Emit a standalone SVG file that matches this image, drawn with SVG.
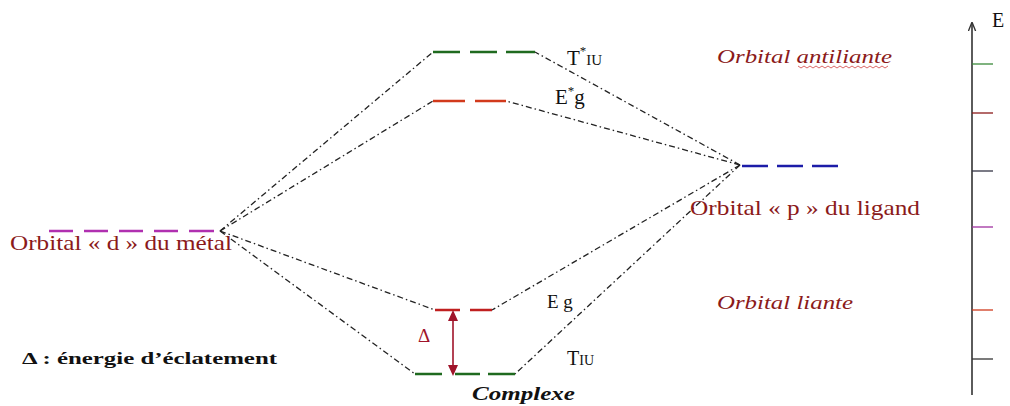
<svg xmlns="http://www.w3.org/2000/svg" width="1010" height="406" viewBox="0 0 1010 406">
<defs>
<style>
.lvl{stroke-width:2.6;fill:none}
.conn{stroke:#222;stroke-width:1.3;fill:none;stroke-dasharray:6 3 1.5 3}
.serif{font-family:"Liberation Serif","DejaVu Serif",serif}
.red{fill:#8b1a1a}
.blk{fill:#111}
.tick{stroke-width:1.3}
</style>
<marker id="axh" viewBox="0 0 10 10" refX="9" refY="5" markerWidth="9" markerHeight="9" markerUnits="userSpaceOnUse" orient="auto">
<path d="M0,1 L10,5 L0,9" fill="none" stroke="#333" stroke-width="1.5"/>
</marker>
</defs>
<rect width="1010" height="406" fill="#fff"/>

<g id="connectors">
<line class="conn" x1="220" y1="231" x2="433" y2="52"/>
<line class="conn" x1="220" y1="231" x2="433" y2="101"/>
<line class="conn" x1="220" y1="231" x2="435" y2="310"/>
<line class="conn" x1="220" y1="231" x2="415" y2="374"/>
<line class="conn" x1="740" y1="165" x2="535" y2="52"/>
<line class="conn" x1="740" y1="165" x2="506" y2="101"/>
<line class="conn" x1="740" y1="165" x2="492" y2="310"/>
<line class="conn" x1="740" y1="165" x2="515" y2="374"/>
</g>

<g id="T1U-star">
<path class="lvl" stroke="#1f6a1f" d="M433,52 H460 M470,52 H497 M506,52 H535"/>
<text class="serif blk" x="567" y="65" font-size="21">T<tspan font-size="13" dy="-10">*</tspan><tspan font-size="15" dy="10">IU</tspan></text>
</g>

<g id="Eg-star">
<path class="lvl" stroke="#d23a1c" d="M433,101 H465 M475,101 H506"/>
<text class="serif blk" x="555" y="104" font-size="21">E<tspan font-size="13" dy="-9">*</tspan><tspan dy="9">g</tspan></text>
</g>

<g id="metal">
<path class="lvl" stroke="#b030b0" d="M49,231 H73 M84,231 H108 M119,231 H143 M154,231 H178 M189,231 H214"/>
<text class="serif red" x="10" y="250" font-size="21" textLength="222" lengthAdjust="spacingAndGlyphs">Orbital « d » du métal</text>
</g>

<g id="ligand">
<path class="lvl" stroke="#1c1ca8" d="M742,166 H768 M777,166 H803 M812,166 H838"/>
<text class="serif red" x="690" y="215" font-size="21" textLength="230" lengthAdjust="spacingAndGlyphs">Orbital « p » du ligand</text>
</g>

<g id="Eg">
<path class="lvl" stroke="#c02020" d="M435,310 H460 M470,310 H492"/>
<text class="serif blk" x="547" y="308" font-size="19">E g</text>
</g>

<g id="T1U">
<path class="lvl" stroke="#1f6a1f" d="M415,374 H442 M455,374 H480 M488,374 H515"/>
<text class="serif blk" x="567" y="365" font-size="20">T<tspan font-size="14">IU</tspan></text>
</g>

<g id="delta">
<line x1="453" y1="316" x2="453" y2="368" stroke="#a0142a" stroke-width="1.6"/>
<path d="M453,310 L448,321 L458,321 z M453,376 L448,365 L458,365 z" fill="#a0142a"/>
<text class="serif" fill="#a0142a" x="418" y="342" font-size="19">Δ</text>
</g>

<g id="labels">
<text class="serif red" x="717" y="63" font-size="18" font-style="italic" textLength="175" lengthAdjust="spacingAndGlyphs">Orbital antiliante</text>
<path d="M798,66 l3,2 l3,-2 l3,2 l3,-2 l3,2 l3,-2 l3,2 l3,-2 l3,2 l3,-2 l3,2 l3,-2 l3,2 l3,-2 l3,2 l3,-2 l3,2 l3,-2 l3,2 l3,-2 l3,2 l3,-2 l3,2 l3,-2 l3,2 l3,-2 l3,2 l3,-2 l3,2 l3,-2" fill="none" stroke="#d04040" stroke-width="0.8"/>
<text class="serif red" x="717" y="309" font-size="18" font-style="italic" textLength="136" lengthAdjust="spacingAndGlyphs">Orbital liante</text>
<text class="serif blk" x="22" y="364" font-size="17" font-weight="bold" textLength="255" lengthAdjust="spacingAndGlyphs">Δ : énergie d’éclatement</text>
<text class="serif blk" x="472" y="400" font-size="18" font-weight="bold" font-style="italic" textLength="103" lengthAdjust="spacingAndGlyphs">Complexe</text>
</g>

<g id="axis">
<line x1="972" y1="395" x2="972" y2="23" stroke="#333" stroke-width="1.6" marker-end="url(#axh)"/>
<text class="serif blk" x="992" y="27" font-size="20">E</text>
<line class="tick" x1="972" y1="64" x2="993" y2="64" stroke="#3a8a3a"/>
<line class="tick" x1="972" y1="113" x2="993" y2="113" stroke="#8b1a1a"/>
<line class="tick" x1="972" y1="171" x2="993" y2="171" stroke="#333344"/>
<line class="tick" x1="972" y1="227" x2="993" y2="227" stroke="#a030a0"/>
<line class="tick" x1="972" y1="310" x2="993" y2="310" stroke="#d03a1c"/>
<line class="tick" x1="972" y1="359" x2="993" y2="359" stroke="#333"/>
</g>
</svg>
